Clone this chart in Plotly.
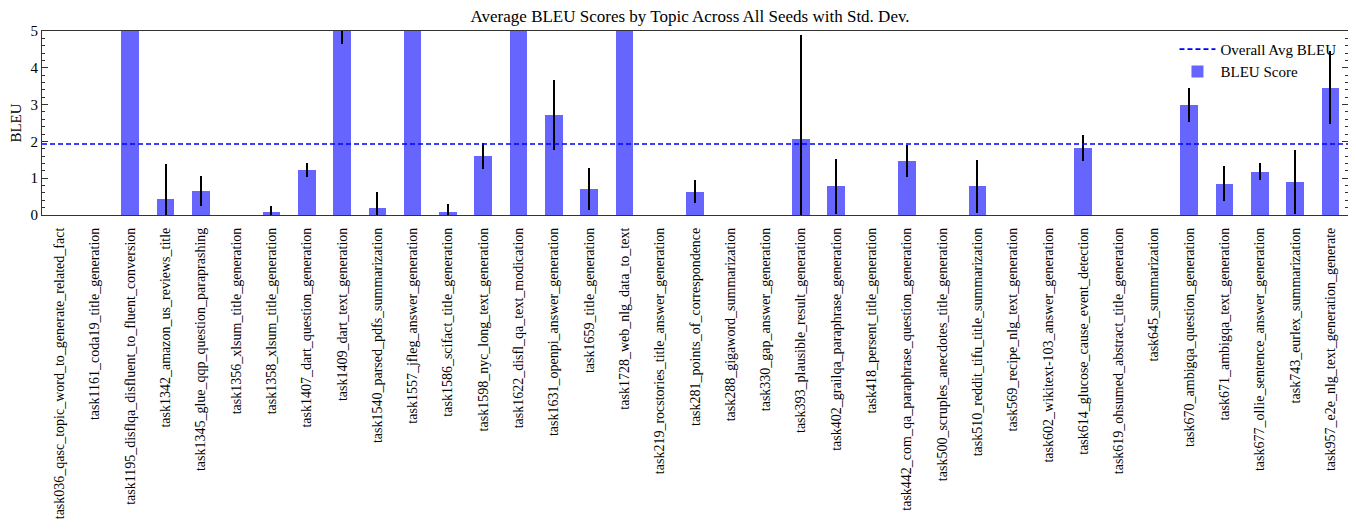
import plotly.graph_objects as go

categories = [
    "task036_qasc_topic_word_to_generate_related_fact",
    "task1161_coda19_title_generation",
    "task1195_disflqa_disfluent_to_fluent_conversion",
    "task1342_amazon_us_reviews_title",
    "task1345_glue_qqp_question_paraprashing",
    "task1356_xlsum_title_generation",
    "task1358_xlsum_title_generation",
    "task1407_dart_question_generation",
    "task1409_dart_text_generation",
    "task1540_parsed_pdfs_summarization",
    "task1557_jfleg_answer_generation",
    "task1586_scifact_title_generation",
    "task1598_nyc_long_text_generation",
    "task1622_disfl_qa_text_modication",
    "task1631_openpi_answer_generation",
    "task1659_title_generation",
    "task1728_web_nlg_data_to_text",
    "task219_rocstories_title_answer_generation",
    "task281_points_of_correspondence",
    "task288_gigaword_summarization",
    "task330_gap_answer_generation",
    "task393_plausible_result_generation",
    "task402_grailqa_paraphrase_generation",
    "task418_persent_title_generation",
    "task442_com_qa_paraphrase_question_generation",
    "task500_scruples_anecdotes_title_generation",
    "task510_reddit_tifu_title_summarization",
    "task569_recipe_nlg_text_generation",
    "task602_wikitext-103_answer_generation",
    "task614_glucose_cause_event_detection",
    "task619_ohsumed_abstract_title_generation",
    "task645_summarization",
    "task670_ambigqa_question_generation",
    "task671_ambigqa_text_generation",
    "task677_ollie_sentence_answer_generation",
    "task743_eurlex_summarization",
    "task957_e2e_nlg_text_generation_generate",
]

bleu_mean = [
    0.0, 0.0, 11.8, 0.43, 0.65, 0.0, 0.09, 1.23, 5.2, 0.20,
    9.6, 0.09, 1.61, 8.9, 2.73, 0.71, 11.3, 0.0, 0.63, 0.0,
    0.0, 2.06, 0.78, 0.0, 1.46, 0.0, 0.78, 0.0, 0.0, 1.82,
    0.0, 0.0, 2.98, 0.85, 1.18, 0.90, 3.46,
]

bleu_std = [
    0.0, 0.0, 2.1, 0.95, 0.40, 0.0, 0.16, 0.19, 0.56, 0.42,
    1.5, 0.20, 0.35, 1.2, 0.95, 0.57, 2.3, 0.0, 0.31, 0.0,
    0.0, 2.82, 0.74, 0.0, 0.44, 0.0, 0.72, 0.0, 0.0, 0.36,
    0.0, 0.0, 0.46, 0.48, 0.23, 0.86, 1.00,
]

overall_avg = sum(bleu_mean) / len(bleu_mean)

idx = list(range(len(categories)))
FONT = "Liberation Serif, Times New Roman, serif"

fig = go.Figure()
fig.add_trace(go.Bar(
    x=idx, y=bleu_mean, width=0.5,
    marker=dict(color="rgba(0,0,255,0.6)", line=dict(width=0)),
    error_y=dict(type="data", array=bleu_std, visible=True,
                 color="black", thickness=2, width=0),
    name="BLEU Score",
))
fig.add_trace(go.Scatter(
    x=[-0.5, len(categories) - 0.5], y=[overall_avg, overall_avg],
    mode="lines", line=dict(color="#0000ff", width=1.6, dash="5px,3px"),
    name="Overall Avg BLEU",
))

fig.update_layout(
    width=1348, height=523,
    margin=dict(l=34, r=8, t=23, b=316),
    plot_bgcolor="white", paper_bgcolor="white",
    font=dict(family=FONT, size=15, color="black"),
    title=dict(text="Average BLEU Scores by Topic Across All Seeds with Std. Dev.",
               x=0.506, xanchor="center", y=1.0, yanchor="top",
               pad=dict(t=2, b=0),
               font=dict(family=FONT, size=17, color="black")),
    showlegend=True,
    legend=dict(x=0.995, y=0.99, xanchor="right", yanchor="top",
                bgcolor="rgba(0,0,0,0)", traceorder="reversed",
                font=dict(family=FONT, size=15), itemwidth=36,
                tracegroupgap=0),
    bargap=0,
)
fig.update_xaxes(
    range=[-0.5, len(categories) - 0.5], automargin=False,
    tickmode="array", tickvals=idx, ticktext=categories,
    tickangle=-90, ticks="", showgrid=False, zeroline=False,
    showline=True, linecolor="#333", linewidth=1.2, mirror=True,
    tickfont=dict(family=FONT, size=14), ticklabelstandoff=6,
)
fig.update_yaxes(
    range=[0, 5], dtick=1, ticks="inside", ticklen=6, tickcolor="#333",
    automargin=False,
    showgrid=False, zeroline=False,
    showline=True, linecolor="#333", linewidth=1.2, mirror="ticks",
    minor=dict(dtick=0.2, ticks="inside", ticklen=3, tickcolor="#333", showgrid=False),
    title=dict(text="BLEU", standoff=8, font=dict(family=FONT, size=15)),
    tickfont=dict(family=FONT, size=15),
)

fig.write_html("out.html")
